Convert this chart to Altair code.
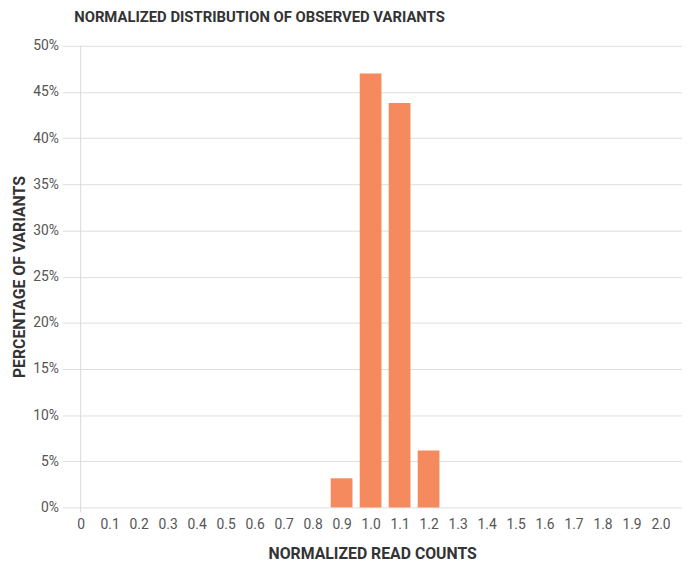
import altair as alt
import pandas as pd

categories = ["0", "0.1", "0.2", "0.3", "0.4", "0.5", "0.6", "0.7", "0.8", "0.9", "1.0",
              "1.1", "1.2", "1.3", "1.4", "1.5", "1.6", "1.7", "1.8", "1.9", "2.0"]
percent = [0, 0, 0, 0, 0, 0, 0, 0, 0, 3.15, 47.0,
           43.8, 6.15, 0, 0, 0, 0, 0, 0, 0, 0]
y_ticks = [0, 5, 10, 15, 20, 25, 30, 35, 40, 45, 50]

x_values = [float(c) for c in categories]
df = pd.DataFrame({"x": x_values, "pct": percent})
bars_df = df[df["pct"] > 0]

FONT = "Roboto"
W, H = 627, 467

xscale = alt.Scale(domain=[-0.046, 2.057], nice=False, zero=False)
x_axis = alt.Axis(title="NORMALIZED READ COUNTS", values=x_values,
                  labelExpr="datum.value == 0 ? '0' : format(datum.value, '.1f')",
                  labelAngle=0, domain=False, ticks=False, grid=False, labelFlush=False,
                  labelOverlap=False, labelBound=False,
                  labelPadding=10, labelFontSize=14, labelColor="#555555", labelFont=FONT,
                  titleFont=FONT, titleFontSize=16, titleFontWeight="bold", titleColor="#333333",
                  titlePadding=15)
y_axis = alt.Axis(title="PERCENTAGE OF VARIANTS", values=y_ticks,
                  labelExpr="datum.value + '%'", domain=False, ticks=False,
                  labelPadding=4, labelFontSize=14, labelColor="#555555", labelFont=FONT,
                  titleFont=FONT, titleFontSize=16, titleFontWeight="bold", titleColor="#333333",
                  titlePadding=5, gridColor="#dddddd", gridWidth=1)

bars = alt.Chart(bars_df).mark_bar(color="#F58A5E", size=22).encode(
    x=alt.X("x:Q", scale=xscale, axis=x_axis),
    y=alt.Y("pct:Q", scale=alt.Scale(domain=[0, 50]), axis=y_axis),
)

rule = alt.Chart(pd.DataFrame({"x": [0.0]})).mark_rule(color="#d9d9d9", strokeWidth=1).encode(
    x=alt.X("x:Q", scale=xscale, axis=x_axis),
    y=alt.value(0),
    y2=alt.value(H + 5),
)

chart = alt.layer(bars, rule).properties(
    width=W, height=H,
    autosize=alt.AutoSizeParams(type="none"),
    padding={"left": 55, "top": 35, "right": 0, "bottom": 55},
    title=alt.TitleParams("NORMALIZED DISTRIBUTION OF OBSERVED VARIANTS", anchor="start", frame="group",
                          font=FONT, fontSize=15, fontWeight="bold", color="#333333", dx=12, offset=14),
).configure_view(stroke=None)

chart.save("out.html", embed_options={"renderer": "svg", "actions": False})
